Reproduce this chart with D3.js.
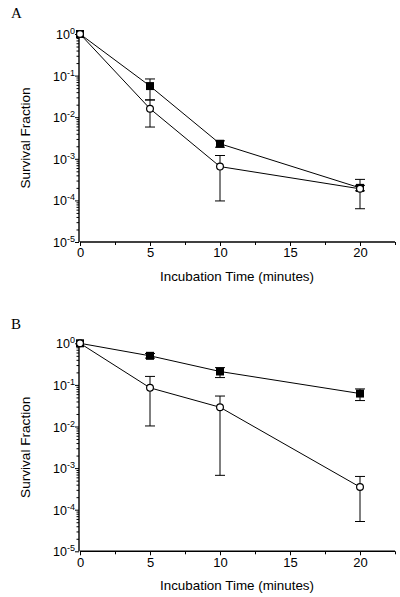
<!DOCTYPE html>
<html><head><meta charset="utf-8">
<script src="https://cdn.jsdelivr.net/npm/d3@7"></script>
<style>body{margin:0;background:#fff}svg{display:block}</style>
</head><body>
<svg id="c" width="400" height="597"></svg>
<script>
const times = [0, 5, 10, 20];
const xTicks = [0, 5, 10, 15, 20];
const yTickExps = [0, -1, -2, -3, -4, -5];
// Panel A
const aFilled = [1.0, 0.056, 0.0023, 0.0002];
const aFilledLo = [0.9, 0.026, 0.0019, 0.00017];
const aFilledHi = [1.1, 0.083, 0.0027, 0.00023];
const aOpen = [1.0, 0.016, 0.00065, 0.00019];
const aOpenLo = [0.9, 0.0058, 0.000097, 0.000063];
const aOpenHi = [1.1, 0.026, 0.0012, 0.00032];
// Panel B
const bFilled = [1.0, 0.50, 0.21, 0.062];
const bFilledLo = [0.9, 0.44, 0.15, 0.042];
const bFilledHi = [1.1, 0.57, 0.26, 0.08];
const bOpen = [1.0, 0.085, 0.029, 0.00035];
const bOpenLo = [0.9, 0.0103, 0.00067, 0.000052];
const bOpenHi = [1.1, 0.16, 0.054, 0.00063];

const svg = d3.select("#c");
const font = "'Liberation Sans', Arial, sans-serif";

function panel(letter, top, bottom, letterY, F, FLo, FHi, O, OLo, OHi) {
  const x = d3.scaleLinear().domain([0, 22.5]).range([80, 395]);
  const y = d3.scaleLog().domain([1e-5, 1]).range([bottom, top]);
  const g = svg.append("g");
  g.append("text").attr("x", 11).attr("y", letterY).text(letter)
    .attr("font-family", "'Liberation Serif','Times New Roman',serif").attr("font-size", 15);
  // x axis
  const xa = g.append("g").attr("transform", `translate(0,${bottom})`)
    .call(d3.axisBottom(x).tickValues(xTicks).tickSize(4).tickPadding(2).tickFormat(d3.format("d")));
  xa.select(".domain").attr("stroke-width", 1.4).attr("d", `M${x(0)},0H${x(22.5)}`);
  xa.selectAll("text").attr("font-family", font).attr("font-size", 13).attr("fill", "#000");
  g.append("g").attr("transform", `translate(0,${bottom})`)
    .call(d3.axisBottom(x).tickValues([2.5, 7.5, 12.5, 17.5, 22.5]).tickSize(3).tickFormat(""))
    .select(".domain").remove();
  // y axis minor
  const minors = [];
  for (let e = -5; e < 0; e++) for (let k = 2; k <= 9; k++) minors.push(k * Math.pow(10, e));
  g.append("g").attr("transform", "translate(79,0)")
    .call(d3.axisLeft(y).tickValues(minors).tickSize(2.5).tickFormat(""))
    .select(".domain").remove();
  const ya = g.append("g").attr("transform", "translate(79,0)")
    .call(d3.axisLeft(y).tickValues(yTickExps.map(e => Math.pow(10, e))).tickSize(4).tickPadding(2).tickFormat(""));
  ya.select(".domain").attr("stroke-width", 1.4).attr("d", `M0,${bottom}V${top}`);
  ya.selectAll(".tick").each(function (d) {
    const t = d3.select(this).append("text").attr("x", -4).attr("y", 4.5)
      .attr("text-anchor", "end").attr("font-family", font).attr("font-size", 12.5).attr("fill", "#000");
    t.append("tspan").text("10");
    t.append("tspan").attr("dy", -5).attr("font-size", 9).text(Math.round(Math.log10(d)));
  });
  // titles
  g.append("text").attr("x", 237).attr("y", bottom + 39).attr("text-anchor", "middle")
    .attr("font-family", font).attr("font-size", 13.4).text("Incubation Time (minutes)");
  g.append("text").attr("transform", `translate(30,${(top + bottom) / 2}) rotate(-90)`)
    .attr("text-anchor", "middle").attr("font-family", font).attr("font-size", 13.6).text("Survival Fraction");
  const line = d3.line().x((d, i) => x(times[i])).y(d => y(d));
  [[F, FLo, FHi], [O, OLo, OHi]].forEach(([v, lo, hi]) => {
    g.append("path").attr("d", line(v)).attr("fill", "none").attr("stroke", "#000").attr("stroke-width", 1);
    times.forEach((t, i) => {
      if (i === 0) return;
      g.append("line").attr("x1", x(t)).attr("x2", x(t)).attr("y1", y(lo[i])).attr("y2", y(hi[i])).attr("stroke", "#000");
      [lo[i], hi[i]].forEach(val => g.append("line").attr("x1", x(t) - 5).attr("x2", x(t) + 5)
        .attr("y1", y(val)).attr("y2", y(val)).attr("stroke", "#000"));
    });
  });
  g.selectAll(null).data(F).enter().append("rect")
    .attr("x", (d, i) => x(times[i]) - 4).attr("y", d => y(d) - 4)
    .attr("width", 8).attr("height", 8).attr("fill", "#000");
  g.selectAll(null).data(O).enter().append("circle")
    .attr("cx", (d, i) => x(times[i])).attr("cy", d => y(d)).attr("r", 3.4)
    .attr("fill", "#fff").attr("stroke", "#000").attr("stroke-width", 1.2);
}
panel("A", 34, 242, 18, aFilled, aFilledLo, aFilledHi, aOpen, aOpenLo, aOpenHi);
panel("B", 343.3, 551.3, 329, bFilled, bFilledLo, bFilledHi, bOpen, bOpenLo, bOpenHi);
</script>
</body></html>
